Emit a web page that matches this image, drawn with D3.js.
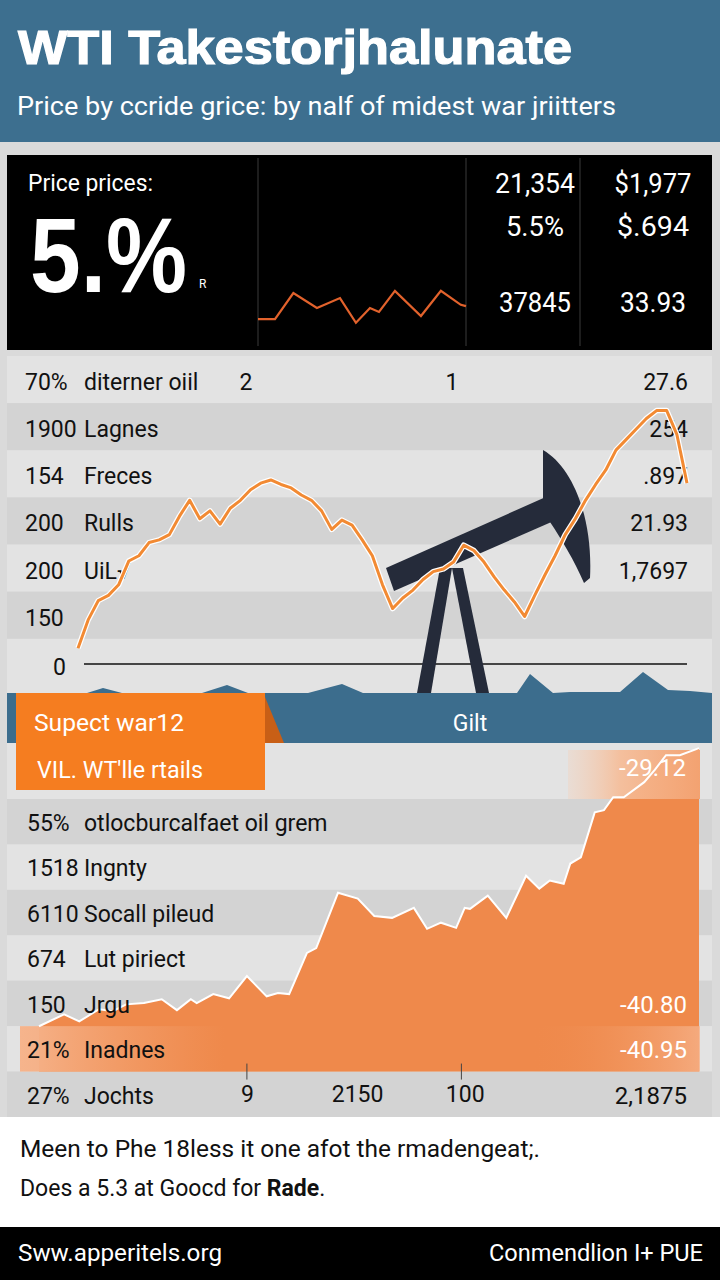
<!DOCTYPE html>
<html><head><meta charset="utf-8">
<script src="https://cdn.jsdelivr.net/npm/d3@7"></script>
<style>html,body{margin:0;padding:0;background:#fff}svg{display:block}</style>
</head><body>
<svg id="c" width="720" height="1280"></svg>
<script>
// ---------- data ----------
const titleText = "WTI Takestorjhalunate";
const subtitleText = "Price by ccride grice: by nalf of midest war jriitters";
const kpiLabel = "Price prices:";
const kpiValue = "5.%";
const kpiNote = "R";
const sparkTimes = [0, 0.98, 2.04, 3.4, 4.73, 5.65, 6.46, 6.98, 7.9, 9.4, 10.55, 11.7, 12];
const sparkValues = [2.4, 2.4, 8.2, 4.9, 7.1, 1.6, 4.9, 4.0, 8.7, 3.1, 8.7, 5.6, 5.3];
const statColA = ["21,354", "5.5%", "37845"];
const statColB = ["$1,977", "$.694", "33.93"];

const lineRowNums = ["70%", "1900", "154", "200", "200", "150"];
const lineRowNames = ["diterner oiil", "Lagnes", "Freces", "Rulls", "UiL\u221A", ""];
const lineRowRight = ["27.6", "254", ".897", "21.93", "1,7697", ""];
const lineTopTicks = [16.5, 36.8];
const lineTopTickLabels = ["2", "1"];
const lineValues = [6, 16.7, 24, 26, 30, 39, 41, 46, 47, 49, 56, 62, 55, 58, 53, 59, 62, 66, 68.5, 69.7,
  68, 66.7, 64, 62, 58, 51, 54.5, 52.6, 47, 41, 30, 21, 25, 28, 32, 35, 36, 38.6, 45, 43,
  38.6, 33, 28, 23.5, 18, 26, 33.7, 41, 49, 55, 62, 68, 73.5, 81, 85, 89, 93, 96, 96, 87, 68.5];

const bandTitleA = "Supect war12";
const bandTitleB = "VIL. WT'lle rtails";
const bandCenter = "Gilt";

const areaRowNums = ["55%", "1518", "6110", "674", "150", "21%", "27%"];
const areaRowNames = ["otlocburcalfaet oil grem", "Ingnty", "Socall pileud", "Lut piriect", "Jrgu", "Inadnes", "Jochts"];
const areaRowRight = ["", "", "", "", "-40.80", "-40.95", "2,1875"];
const areaTopRight = "-29.12";
const areaDays = [0, 3.8, 6.1, 9.1, 11.2, 13.2, 15.9, 18.6, 20.9, 23, 23.9, 26.4, 28.8, 31.5, 34.5, 36.2, 37.9,
  40.6, 42, 45.3, 48.3, 50.8, 53.5, 56.8, 58.8, 60.9, 63.2, 64.5, 65.3, 68, 70.8, 73.8, 75.8, 77.4, 79.5,
  80.5, 82.1, 84.2, 85.6, 87, 88.6, 91.7, 93.3, 95, 97.1, 100];
const areaValues = [14.1, 17.8, 15.6, 19.4, 18.8, 20.9, 21.3, 22.5, 19.1, 22.5, 21.3, 24.1, 22.8, 29.7, 23.4, 24.4, 24.1,
  36.9, 38.4, 55.6, 53.8, 48.4, 47.8, 50.9, 44.4, 46.3, 44.7, 50.9, 50.6, 54.7, 47.8, 60.9, 56.9, 59.4, 58.4,
  64.7, 66.6, 80.6, 81.3, 85.3, 85.3, 90, 93.8, 98.4, 98.4, 100.6];
const areaTicks = [31.5, 48.2, 64.5, 92.6];
const areaTickLabels = ["9", "2150", "100", ""];
const areaTickMarks = [31.5, 64];

const noteLine1 = "Meen to Phe 18less it one afot the rmadengeat;.";
const noteLine2a = "Does a 5.3 at Goocd for ";
const noteLine2b = "Rade";
const footerLeft = "Sww.apperitels.org";
const footerRight = "Conmendlion I+ PUE";

// ---------- drawing ----------
const svg = d3.select("#c");
const F = "Roboto, 'Liberation Sans', sans-serif";
const defs = svg.append("defs");

// backgrounds
svg.append("rect").attr("x",0).attr("y",0).attr("width",720).attr("height",1280).attr("fill","#dadada");
svg.append("rect").attr("x",0).attr("y",0).attr("width",720).attr("height",142).attr("fill","#3d6f8f");
svg.append("text").attr("x",18).attr("y",64).attr("fill","#fff")
  .attr("font-family","'Liberation Sans', Arial, sans-serif").attr("font-weight",700).attr("font-size",48)
  .attr("stroke","#fff").attr("stroke-width",1.2)
  .attr("textLength",554).attr("lengthAdjust","spacingAndGlyphs").text(titleText);
svg.append("text").attr("x",17).attr("y",115).attr("fill","#fff")
  .attr("font-family",F).attr("font-size",26)
  .attr("textLength",599).attr("lengthAdjust","spacingAndGlyphs").text(subtitleText);

// KPI box
svg.append("rect").attr("x",7).attr("y",155).attr("width",705).attr("height",195).attr("fill","#000");
svg.append("text").attr("x",28).attr("y",191).attr("fill","#fff").attr("font-family",F).attr("font-size",23)
  .attr("textLength",125).attr("lengthAdjust","spacingAndGlyphs").text(kpiLabel);
svg.append("g").attr("transform","translate(30,292) scale(0.86,1)")
  .append("text").attr("x",0).attr("y",0).attr("fill","#fff").attr("font-family","'Liberation Sans', Arial, sans-serif")
  .attr("font-weight",700).attr("font-size",106).text(kpiValue);
svg.append("text").attr("x",199).attr("y",288).attr("fill","#fff").attr("font-family",F).attr("font-size",12).text(kpiNote);
[258, 466, 580].forEach(x => svg.append("line").attr("x1",x).attr("x2",x).attr("y1",158).attr("y2",346)
  .attr("stroke","#3a3a3a").attr("stroke-width",1));
const sx = d3.scaleLinear().domain([0,12]).range([258,466]);
const sy = d3.scaleLinear().domain([0,10]).range([330,285]);
svg.append("path").datum(sparkValues.map((v,i)=>[sparkTimes[i],v]))
  .attr("d", d3.line().x(d=>sx(d[0])).y(d=>sy(d[1])))
  .attr("fill","none").attr("stroke","#e2622c").attr("stroke-width",2.2);
const statY = [193, 236, 312];
const statWA = [80, 58, 72], statWB = [77, 72, 66];
statColA.forEach((t,i)=>svg.append("text").attr("x",535).attr("y",statY[i]).attr("text-anchor","middle")
  .attr("fill","#fff").attr("font-family",F).attr("font-size",28)
  .attr("textLength",statWA[i]).attr("lengthAdjust","spacingAndGlyphs").text(t));
statColB.forEach((t,i)=>svg.append("text").attr("x",653).attr("y",statY[i]).attr("text-anchor","middle")
  .attr("fill","#fff").attr("font-family",F).attr("font-size",28)
  .attr("textLength",statWB[i]).attr("lengthAdjust","spacingAndGlyphs").text(t));

// ---------- middle line chart ----------
const rowsMid = d3.range(7);
const ry = d3.scaleBand().domain(rowsMid).range([356, 686]).padding(0);
rowsMid.forEach(i => {
  const y0 = ry(i), h = (i===6 ? 693 - y0 : ry.bandwidth());
  svg.append("rect").attr("x",7).attr("y",y0).attr("width",705).attr("height",h)
    .attr("fill", i%2===0 ? "#e3e3e3" : "#d3d3d3");
});
const lx = d3.scaleLinear().domain([0, lineValues.length-1]).range([78, 687]);
const ly = d3.scaleLinear().domain([0, 100]).range([664, 400]);

// zero axis
const yAxis = svg.append("g").attr("transform","translate(68,0)")
  .call(d3.axisLeft(ly).tickValues([0]).tickSize(0).tickPadding(2));
yAxis.select(".domain").remove();
yAxis.selectAll("text").attr("font-family",F).attr("font-size",23).attr("fill","#111").attr("dy","0.45em");
svg.append("line").attr("x1",84).attr("x2",687).attr("y1",ly(0)).attr("y2",ly(0)).attr("stroke","#111").attr("stroke-width",1.5);

// top tick labels (sit on the first row's baseline)
const topAxis = svg.append("g").attr("transform",`translate(0,${ry(0)+34})`)
  .call(d3.axisBottom(lx).tickValues(lineTopTicks).tickFormat((d,i)=>lineTopTickLabels[i]).tickSize(0).tickPadding(0));
topAxis.select(".domain").remove();
topAxis.selectAll("text").attr("font-family",F).attr("font-size",23).attr("fill","#111").attr("dy","0");

// row labels
lineRowNums.forEach((t,i)=>{
  const by = ry(i) + 34;
  svg.append("text").attr("x",25).attr("y",by).attr("font-family",F).attr("font-size",23).attr("fill","#111").text(t);
  svg.append("text").attr("x",84).attr("y",by).attr("font-family",F).attr("font-size",23).attr("fill","#111").text(lineRowNames[i]);
  svg.append("text").attr("x",688).attr("y",by).attr("text-anchor","end").attr("font-family",F).attr("font-size",23).attr("fill","#111").text(lineRowRight[i]);
});

// pump jack (decoration)
const jack = svg.append("g").attr("fill","#252b3a");
jack.append("polygon").attr("points","440,568 452,568 431,693 417,693");
jack.append("polygon").attr("points","452,568 463,568 489,693 476,693");
jack.append("polygon").attr("points","386,568 548,496 556,520 394,591");
jack.append("path").attr("d","M543,450 C574,468 593,520 590,578 L584,583 C574,560 562,540 550,522 L543,522 Z");

// mountains + blue band
svg.append("path").attr("fill","#3c6d8d")
  .attr("d","M7,693 L87,693 L103,688 L122,693 L202,693 L227,685 L248,693 L308,693 L342,684 L363,693 L517,693 L530,674 L553,693 L570,692 L620,692 L643,672 L668,690 L690,691 L712,693 Z");
svg.append("rect").attr("x",7).attr("y",693).attr("width",705).attr("height",50).attr("fill","#3c6d8d");

// orange line with white halo
const lineGen = d3.line().x((d,i)=>lx(i)).y(d=>ly(d));
svg.append("path").datum(lineValues).attr("d",lineGen).attr("fill","none")
  .attr("stroke","#fff").attr("stroke-width",5.5).attr("stroke-linejoin","round");
svg.append("path").datum(lineValues).attr("d",lineGen).attr("fill","none")
  .attr("stroke","#f28a33").attr("stroke-width",3).attr("stroke-linejoin","round");

// band labels
svg.append("rect").attr("x",16).attr("y",693).attr("width",249).attr("height",97).attr("fill","#f57d20");
svg.append("polygon").attr("points","265,697 284,743 265,743").attr("fill","#c85f16");
svg.append("text").attr("x",34).attr("y",731).attr("fill","#fff").attr("font-family",F).attr("font-size",23)
  .attr("textLength",150).attr("lengthAdjust","spacingAndGlyphs").text(bandTitleA);
svg.append("text").attr("x",470).attr("y",731).attr("text-anchor","middle").attr("fill","#fff").attr("font-family",F).attr("font-size",23).text(bandCenter);

// ---------- lower area chart ----------
svg.append("rect").attr("x",7).attr("y",743).attr("width",705).attr("height",56).attr("fill","#e3e3e3");
svg.append("rect").attr("x",16).attr("y",743).attr("width",249).attr("height",47).attr("fill","#f57d20");
svg.append("text").attr("x",37).attr("y",778).attr("fill","#fff").attr("font-family",F).attr("font-size",23)
  .attr("textLength",166).attr("lengthAdjust","spacingAndGlyphs").text(bandTitleB);

const rowsLow = d3.range(7);
const rl = d3.scaleBand().domain(rowsLow).range([799, 1117]);
rowsLow.forEach(i => svg.append("rect").attr("x",7).attr("y",rl(i)).attr("width",705).attr("height",rl.bandwidth())
  .attr("fill", i%2===0 ? "#d3d3d3" : "#e3e3e3"));

const ax = d3.scaleLinear().domain([0,100]).range([39, 699]);
const ay = d3.scaleLinear().domain([0,100]).range([rl(6), 750]);
const areaData = areaValues.map((v,i)=>[areaDays[i], v]);
svg.append("path").datum(areaData)
  .attr("d", d3.area().x(d=>ax(d[0])).y0(ay(0)).y1(d=>ay(d[1])))
  .attr("fill","#ef894b");

// highlight band gradient
const g1 = defs.append("linearGradient").attr("id","hl").attr("x1","0").attr("x2","1");
g1.append("stop").attr("offset","0").attr("stop-color","#f6b48c").attr("stop-opacity",1);
g1.append("stop").attr("offset","0.3").attr("stop-color","#ef894b").attr("stop-opacity",0.6);
g1.append("stop").attr("offset","0.75").attr("stop-color","#ef894b").attr("stop-opacity",0);
g1.append("stop").attr("offset","1").attr("stop-color","#f6b28a").attr("stop-opacity",0.8);
svg.append("rect").attr("x",20).attr("y",rl(5)).attr("width",680).attr("height",rl.bandwidth()).attr("fill","url(#hl)");

const g2 = defs.append("linearGradient").attr("id","tr").attr("x1","0").attr("x2","1");
g2.append("stop").attr("offset","0").attr("stop-color","#f7cdb2").attr("stop-opacity",0.3);
g2.append("stop").attr("offset","0.4").attr("stop-color","#f6bb95").attr("stop-opacity",0.9);
g2.append("stop").attr("offset","1").attr("stop-color","#f3a271").attr("stop-opacity",1);
svg.append("rect").attr("x",568).attr("y",750).attr("width",132).attr("height",49).attr("fill","url(#tr)");

svg.append("path").datum(areaData)
  .attr("d", d3.line().x(d=>ax(d[0])).y(d=>ay(d[1])))
  .attr("fill","none").attr("stroke","#fff").attr("stroke-width",2);

// bottom axis
const bAxis = svg.append("g").attr("transform",`translate(0,${rl(6)})`)
  .call(d3.axisBottom(ax).tickValues(areaTicks).tickFormat((d,i)=>areaTickLabels[i]).tickSize(0).tickPadding(0));
bAxis.select(".domain").remove();
bAxis.selectAll("text").attr("font-family",F).attr("font-size",23).attr("fill","#111").attr("dy","1.32em");
areaTickMarks.forEach(t => svg.append("line").attr("x1",ax(t)).attr("x2",ax(t)).attr("y1",rl(6)-8).attr("y2",rl(6)+8)
  .attr("stroke","#444").attr("stroke-width",1));

areaRowNums.forEach((t,i)=>{
  const by = rl(i) + 32;
  svg.append("text").attr("x",27).attr("y",by).attr("font-family",F).attr("font-size",23).attr("fill","#111").text(t);
  svg.append("text").attr("x",84).attr("y",by).attr("font-family",F).attr("font-size",23).attr("fill","#111").text(areaRowNames[i]);
  svg.append("text").attr("x",687).attr("y",by).attr("text-anchor","end").attr("font-family",F).attr("font-size",24)
    .attr("fill", i===6 ? "#111" : "#fff").text(areaRowRight[i]);
});
svg.append("text").attr("x",686).attr("y",776).attr("text-anchor","end").attr("font-family",F).attr("font-size",24)
  .attr("fill","#fff").text(areaTopRight);

// ---------- notes & footer ----------
svg.append("rect").attr("x",0).attr("y",1117).attr("width",720).attr("height",110).attr("fill","#fff");
svg.append("text").attr("x",20).attr("y",1157).attr("font-family",F).attr("font-size",23).attr("fill","#111")
  .attr("textLength",520).attr("lengthAdjust","spacingAndGlyphs").text(noteLine1);
const n2 = svg.append("text").attr("x",20).attr("y",1196).attr("font-family",F).attr("font-size",23).attr("fill","#111");
n2.append("tspan").text(noteLine2a);
n2.append("tspan").attr("font-weight",700).text(noteLine2b);
n2.append("tspan").text(".");
svg.append("rect").attr("x",0).attr("y",1227).attr("width",720).attr("height",53).attr("fill","#000");
svg.append("text").attr("x",18).attr("y",1261).attr("font-family",F).attr("font-size",24).attr("fill","#fff")
  .attr("textLength",204).attr("lengthAdjust","spacingAndGlyphs").text(footerLeft);
svg.append("text").attr("x",703).attr("y",1261).attr("text-anchor","end").attr("font-family",F).attr("font-size",24).attr("fill","#fff")
  .attr("textLength",214).attr("lengthAdjust","spacingAndGlyphs").text(footerRight);
</script>
</body></html>
